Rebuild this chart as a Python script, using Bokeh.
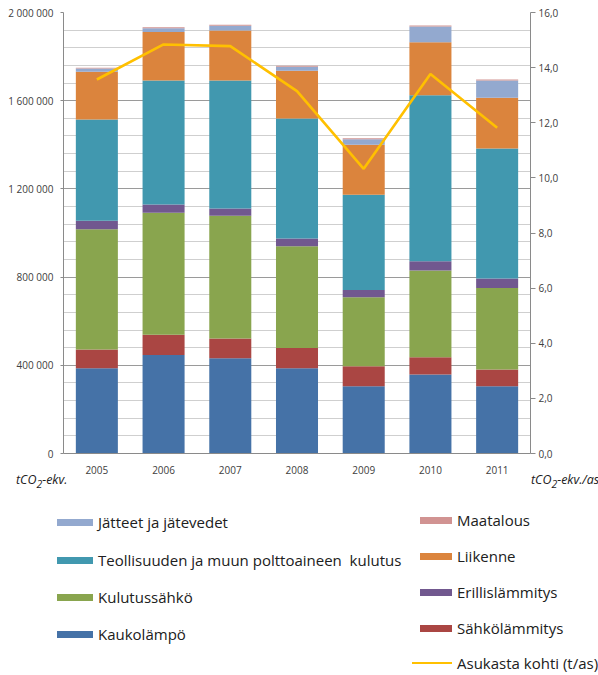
from bokeh.plotting import figure
from bokeh.models import (ColumnDataSource, FactorRange, Range1d, LinearAxis,
                          FixedTicker, CustomJSTickFormatter, Div)
from bokeh.layouts import column
from bokeh.embed import file_html
from bokeh.resources import INLINE

years = ["2005", "2006", "2007", "2008", "2009", "2010", "2011"]

kaukolampo = [387000, 447000, 432000, 387000, 305000, 358000, 305000]
sahkolammitys = [85000, 91000, 90000, 91000, 91000, 79000, 76000]
kulutussahko = [545000, 554000, 556000, 462000, 313000, 393000, 370000]
erillislammitys = [38000, 37000, 33000, 35000, 33000, 42000, 43000]
teollisuus = [460000, 563000, 581000, 544000, 431000, 753000, 589000]
liikenne = [216000, 220000, 226000, 217000, 227000, 240000, 230000]
jatteet = [15000, 17000, 22000, 18000, 25000, 72000, 79000]
maatalous = [4000, 4000, 4000, 4000, 5000, 4000, 4000]

per_capita = [13.57, 14.84, 14.78, 13.15, 10.33, 13.77, 11.82]

series_names = ["Kaukolämpö", "Sähkölämmitys", "Kulutussähkö", "Erillislämmitys",
                "Teollisuuden ja muun polttoaineen  kulutus", "Liikenne",
                "Jätteet ja jätevedet", "Maatalous"]
series_values = [kaukolampo, sahkolammitys, kulutussahko, erillislammitys,
                 teollisuus, liikenne, jatteet, maatalous]
series_colors = ["#4572A7", "#AA4643", "#89A54E", "#71588F",
                 "#4198AF", "#DB843D", "#93A9CF", "#D19392"]
line_name = "Asukasta kohti (t/as)"
line_color = "#FFC000"
unit_left_html = "tCO<sub>2</sub>-ekv."
unit_right_html = "tCO<sub>2</sub>-ekv./as"

left_ticks = [0, 400000, 800000, 1200000, 1600000, 2000000]
left_minor = list(range(0, 2000001, 80000))
right_ticks = [0, 2, 4, 6, 8, 10, 12, 14, 16]

FONT = "Open Sans"

data = {"year": years}
for n, v in zip(series_names, series_values):
    data[n] = v
src = ColumnDataSource(data)

p = figure(x_range=FactorRange(*years, range_padding=0),
           y_range=Range1d(0, 2000000),
           frame_width=467, frame_height=441,
           min_border_left=63, min_border_right=68,
           min_border_top=12, min_border_bottom=22,
           output_backend="svg", toolbar_location=None)
p.outline_line_color = None

bars = p.vbar_stack(series_names, x="year", width=0.63, color=series_colors,
                    line_color=None, source=src)

p.extra_y_ranges = {"right": Range1d(0, 16)}
p.line(years, per_capita, y_range_name="right", line_color=line_color,
       line_width=2.6)

ya = p.yaxis[0]
ya.ticker = FixedTicker(ticks=left_ticks, minor_ticks=left_minor)
ya.formatter = CustomJSTickFormatter(code="""
    return Math.round(tick).toString().replace(/\\B(?=(\\d{3})+(?!\\d))/g, ' ');
""")
ya.axis_line_color = "#8a8a8a"
ya.major_tick_line_color = "#8a8a8a"
ya.major_tick_out = 3
ya.major_tick_in = 0
ya.minor_tick_line_color = None
ya.major_label_standoff = 6
ya.major_label_text_font = FONT
ya.major_label_text_font_size = "10px"
ya.major_label_text_color = "#404040"

p.ygrid.grid_line_color = "#9a9a9a"
p.ygrid.minor_grid_line_color = "#cfcfcf"
p.xgrid.grid_line_color = None

ra = LinearAxis(y_range_name="right",
                ticker=FixedTicker(ticks=right_ticks, minor_ticks=[]))
ra.formatter = CustomJSTickFormatter(code="return tick.toFixed(1).replace('.', ',');")
ra.axis_line_color = "#8a8a8a"
ra.major_tick_line_color = "#8a8a8a"
ra.major_tick_out = 5
ra.major_tick_in = 0
ra.minor_tick_line_color = None
ra.major_label_standoff = 3
ra.major_label_text_font = FONT
ra.major_label_text_font_size = "10px"
ra.major_label_text_color = "#404040"
p.add_layout(ra, "right")

xa = p.xaxis[0]
xa.axis_line_color = "#8a8a8a"
xa.major_tick_line_color = None
xa.major_tick_out = 0
xa.minor_tick_line_color = None
xa.major_label_standoff = 12
xa.major_label_text_font = FONT
xa.major_label_text_font_size = "10px"
xa.major_label_text_color = "#404040"

# ---- legend & unit captions (HTML below the plot) ----
left_order = ["Jätteet ja jätevedet", "Teollisuuden ja muun polttoaineen  kulutus",
              "Kulutussähkö", "Kaukolämpö"]
right_order = ["Maatalous", "Liikenne", "Erillislämmitys", "Sähkölämmitys"]
color_of = dict(zip(series_names, series_colors))

TOP = 482  # page y where the Div starts
left_rows = [523, 561, 598, 635]
right_rows = [521, 557, 593, 629, 664]
unit_row = 481

parts = []
cap = ("position:absolute;top:{t}px;left:{l}px;font-style:italic;font-size:12.5px;"
       "line-height:16px;color:#202020;white-space:nowrap;")
parts.append(f'<div style="{cap.format(t=unit_row - TOP - 8, l=11)}">{unit_left_html}</div>')
parts.append(f'<div style="{cap.format(t=unit_row - TOP - 8, l=526)}">{unit_right_html}</div>')

txt = ("position:absolute;top:{t}px;left:{l}px;font-size:15px;line-height:18px;"
       "color:#202020;white-space:pre;")
sw = "position:absolute;top:{t}px;left:{l}px;width:{w}px;height:{h}px;background:{c};"

for name, yc in zip(left_order, left_rows):
    parts.append(f'<div style="{sw.format(t=yc - TOP - 3.5, l=52, w=36, h=7, c=color_of[name])}"></div>')
    parts.append(f'<div style="{txt.format(t=yc - TOP - 9, l=93)}">{name}</div>')
for name, yc in zip(right_order, right_rows[:4]):
    parts.append(f'<div style="{sw.format(t=yc - TOP - 3.5, l=415, w=32, h=7, c=color_of[name])}"></div>')
    parts.append(f'<div style="{txt.format(t=yc - TOP - 9, l=452)}">{name}</div>')
yc = right_rows[4]
parts.append(f'<div style="{sw.format(t=yc - TOP - 1.3, l=407, w=40, h=2.6, c=line_color)}"></div>')
parts.append(f'<div style="{txt.format(t=yc - TOP - 9, l=452)}">{line_name}</div>')

html = (f'<div style="position:relative;width:598px;height:190px;overflow:visible;'
        f'font-family:\'{FONT}\',sans-serif;">' + "".join(parts) + "</div>")
legend_div = Div(text=html, width=598, height=190)

layout = column(p, legend_div, spacing=0)
open("out.html", "w").write(file_html(layout, INLINE))
